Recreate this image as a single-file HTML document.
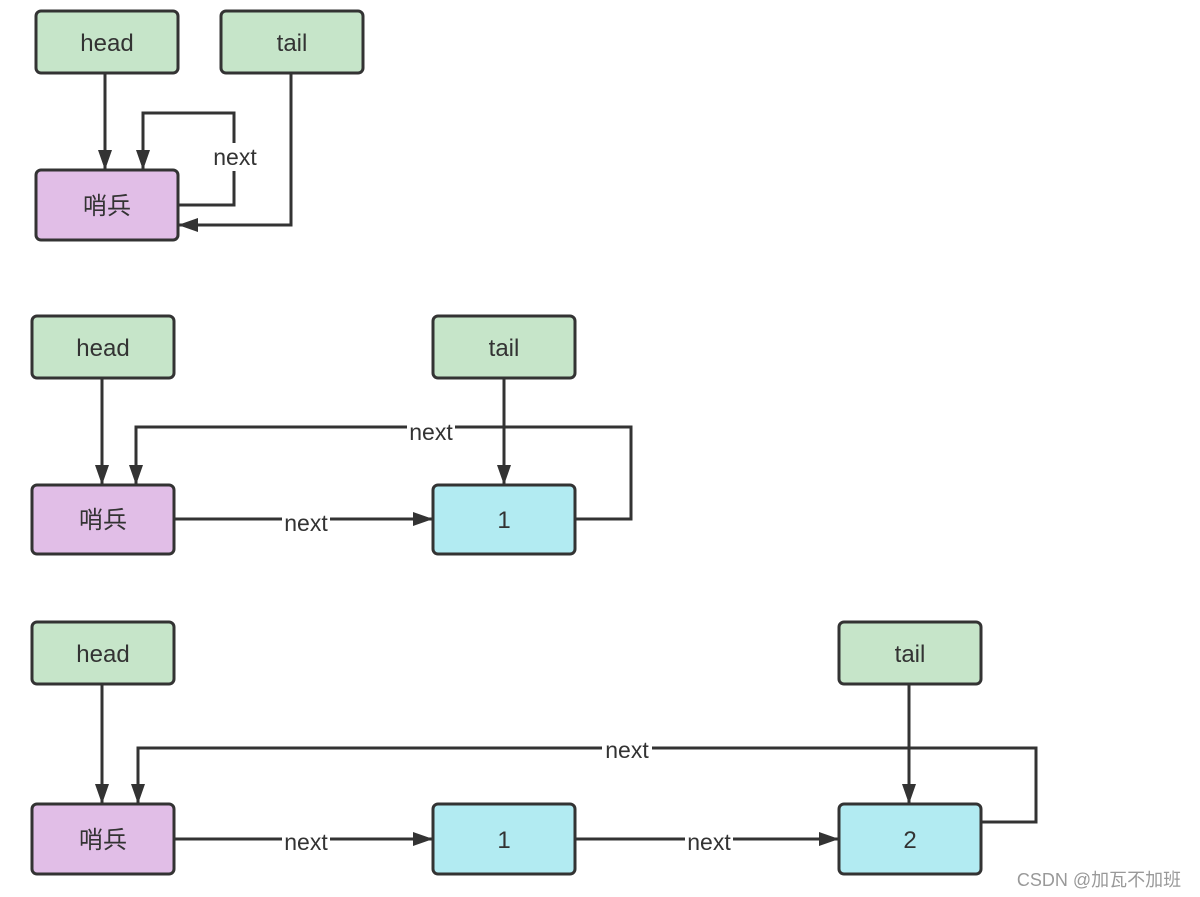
<!DOCTYPE html>
<html><head><meta charset="utf-8"><style>
html,body{margin:0;padding:0;background:#fff;}
svg{display:block;}
text{font-family:"Liberation Sans","Noto Sans CJK SC",sans-serif;fill:#333;}
</style></head><body>
<svg width="1200" height="897" viewBox="0 0 1200 897" xmlns="http://www.w3.org/2000/svg">
<defs>
<marker id="a" markerWidth="20" markerHeight="14" refX="19" refY="7" orient="auto" markerUnits="userSpaceOnUse" viewBox="0 0 20 14">
<path d="M0,0 L20,7 L0,14 z" fill="#333"/>
</marker>
</defs>
<g fill="none" stroke="#333" stroke-width="3">
<path d="M105,73 V169" marker-end="url(#a)" />
<path d="M178,205 H234 V113 H143 V169" marker-end="url(#a)"/>
<path d="M291,73 V225 H179" marker-end="url(#a)"/>
<path d="M102,378 V484" marker-end="url(#a)"/>
<path d="M575,519 H631 V427 H136 V484" marker-end="url(#a)"/>
<path d="M174,519 H432" marker-end="url(#a)"/>
<path d="M102,684 V803" marker-end="url(#a)"/>
<path d="M981,822 H1036 V748 H138 V803" marker-end="url(#a)"/>
<path d="M174,839 H432" marker-end="url(#a)"/>
<path d="M575,839 H838" marker-end="url(#a)"/>
</g>
<g fill="#fff">
<rect x="211" y="143" width="48" height="28"/>
<rect x="282" y="510" width="48" height="24"/>
<rect x="407" y="420" width="48" height="24"/>
<rect x="282" y="830" width="48" height="24"/>
<rect x="685" y="830" width="48" height="24"/>
<rect x="602" y="738" width="50" height="24"/>
</g>
<path d="M504,378 V484" stroke="#333" stroke-width="3" marker-end="url(#a)" fill="none"/>
<path d="M909,684 V803" stroke="#333" stroke-width="3" marker-end="url(#a)" fill="none"/>
<g stroke="#333" stroke-width="3">
<rect x="36" y="11" width="142" height="62" rx="5" fill="#c6e5c9"/>
<rect x="221" y="11" width="142" height="62" rx="5" fill="#c6e5c9"/>
<rect x="36" y="170" width="142" height="70" rx="5" fill="#e1bee7"/>
<rect x="32" y="316" width="142" height="62" rx="5" fill="#c6e5c9"/>
<rect x="433" y="316" width="142" height="62" rx="5" fill="#c6e5c9"/>
<rect x="32" y="485" width="142" height="69" rx="5" fill="#e1bee7"/>
<rect x="433" y="485" width="142" height="69" rx="5" fill="#b2ebf2"/>
<rect x="32" y="622" width="142" height="62" rx="5" fill="#c6e5c9"/>
<rect x="839" y="622" width="142" height="62" rx="5" fill="#c6e5c9"/>
<rect x="32" y="804" width="142" height="70" rx="5" fill="#e1bee7"/>
<rect x="433" y="804" width="142" height="70" rx="5" fill="#b2ebf2"/>
<rect x="839" y="804" width="142" height="70" rx="5" fill="#b2ebf2"/>
</g>
<g font-size="24" text-anchor="middle">
<text x="107" y="51">head</text>
<text x="292" y="51">tail</text>
<text x="107" y="214">哨兵</text>
<text x="103" y="356">head</text>
<text x="504" y="356">tail</text>
<text x="103" y="528">哨兵</text>
<text x="504" y="528">1</text>
<text x="103" y="662">head</text>
<text x="910" y="662">tail</text>
<text x="103" y="848">哨兵</text>
<text x="504" y="848">1</text>
<text x="910" y="848">2</text>
</g>
<g font-size="23" text-anchor="middle">
<text x="235" y="165">next</text>
<text x="306" y="531">next</text>
<text x="431" y="440">next</text>
<text x="306" y="850">next</text>
<text x="709" y="850">next</text>
<text x="627" y="758">next</text>
</g>
<text x="1099" y="886" font-size="18" text-anchor="middle" style="fill:#999">CSDN @加瓦不加班</text>
</svg>
</body></html>
